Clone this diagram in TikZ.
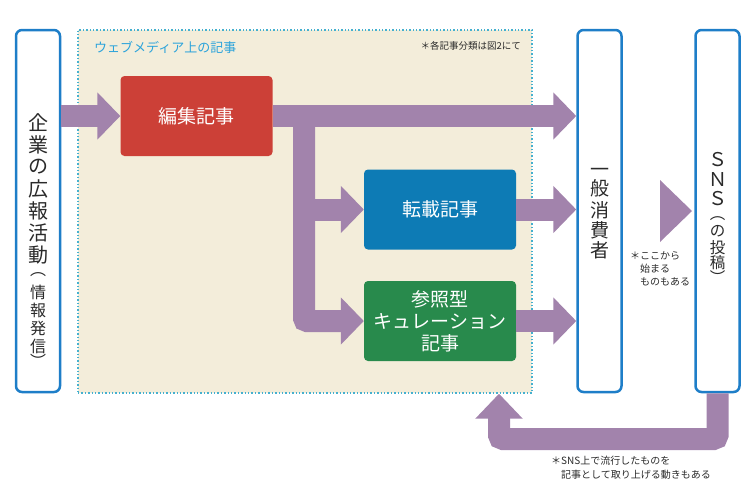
\documentclass[tikz,border=0pt]{standalone}
\usepackage{fontspec}
\setmainfont{Noto Sans CJK JP}
\usetikzlibrary{arrows.meta,calc}
\definecolor{arr}{HTML}{A283AC}
\definecolor{beige}{HTML}{F3EDDA}
\definecolor{bordblue}{HTML}{1E7EC8}
\definecolor{dotc}{HTML}{45B0CF}
\definecolor{redbox}{HTML}{CC4037}
\definecolor{bluebox}{HTML}{0D7BB5}
\definecolor{greenbox}{HTML}{288A4C}
\definecolor{titlec}{HTML}{2BA3DB}
\definecolor{txt}{HTML}{2A2A2A}
\begin{document}
\begin{tikzpicture}[x=1pt,y=-1pt,
  vbox/.style={draw=bordblue, line width=2.5pt, rounded corners=6pt, fill=white,
    minimum width=44pt, minimum height=362pt, inner sep=0pt},
  webbox/.style={draw=dotc, line width=1.4pt, dotted, fill=beige,
    minimum width=454pt, minimum height=363pt, inner sep=0pt},
  cbox/.style={rounded corners=4pt, minimum width=152pt, minimum height=80pt,
    text=white, font=\fontsize{19}{22}\selectfont, align=center, inner sep=0pt},
  bigarrow/.style={draw=arr, line width=22pt, -{Triangle[width=46pt,length=23pt]}},
  vchar/.style={inner sep=0pt, text=txt},
  notetxt/.style={text=txt, align=left, inner sep=0pt}
]
\useasboundingbox (0,0) rectangle (750,491);

% containers
\node[webbox] (web) at (305,211.5) {};
\node[vbox] (corp) at (38,211) {};
\node[vbox] (cons) at (599.5,211) {};
\node[vbox] (sns) at (717.5,211) {};

% article boxes
\node[cbox, fill=redbox] (edit) at (196.5,116) {編集記事};
\node[cbox, fill=bluebox] (rep) at (440,209.5) {転載記事};
\node[cbox, fill=greenbox] (cur) at (440,321) {参照型\\キュレーション\\記事};

% labels in web box
\node[anchor=west, text=titlec, font=\fontsize{13}{15}\selectfont, inner sep=0pt] (title) at (94,47) {ウェブメディア上の記事};
\node[anchor=east, text=txt, font=\fontsize{9.5}{11}\selectfont, inner sep=0pt] (note1) at (521,46) {＊各記事分類は図2にて};

% vertical texts
\foreach \c [count=\i] in {企,業,の,広,報,活,動}
  \node[vchar, font=\fontsize{20}{20}\selectfont] (cl\i) at (38,{101+22*\i}) {\c};
\foreach \c/\y [count=\i] in {︵/275,情/292,報/310.5,発/328.5,信/346,︶/361}
  \node[vchar, font=\fontsize{16}{16}\selectfont] (cs\i) at (38,\y) {\c};
\foreach \c/\y [count=\i] in {一/172,般/188.5,消/210,費/230,者/250}
  \node[vchar, font=\fontsize{19}{19}\selectfont] (cc\i) at (599.5,\y) {\c};
\foreach \c/\y [count=\i] in {Ｓ/159.5,Ｎ/179.5,Ｓ/199}
  \node[vchar, font=\fontsize{19}{19}\selectfont] (sn\i) at (717.5,\y) {\c};
\foreach \c/\y [count=\i] in {︵/218.5,の/231,投/247.5,稿/263,︶/277}
  \node[vchar, font=\fontsize{15.5}{15.5}\selectfont] (sp\i) at (717.5,\y) {\c};

% arrows
\draw[bigarrow] (corp.east |- edit.west) -- (edit.west);
\draw[bigarrow] (edit.east) -- (edit.east -| cons.west);
\coordinate (jn) at (304,116);
\draw[bigarrow, rounded corners=3pt] (jn) |- (cur.west);
\draw[bigarrow] (jn |- rep.west) -- (rep.west);
\draw[bigarrow] (rep.east) -- (rep.east -| cons.west);
\draw[bigarrow] (cur.east) -- (cur.east -| cons.west);
\fill[arr] (660,180) -- (692,211) -- (660,242) -- cycle;
\coordinate (fb) at (499,439);
\draw[draw=arr, line width=22pt, -{Triangle[width=46pt,length=25pt]}, rounded corners=4pt]
  (sns.south) |- (fb) -- (fb |- web.south);

% notes
\node[notetxt, anchor=north west, font=\fontsize{10}{13}\selectfont] (note2) at (630,251)
  {＊ここから\\\phantom{＊}始まる\\\phantom{＊}ものもある};
\node[notetxt, anchor=north west, font=\fontsize{10}{14}\selectfont] (note3) at (551,456)
  {＊SNS上で流行したものを\\\phantom{＊}記事として取り上げる動きもある};
\end{tikzpicture}
\end{document}
